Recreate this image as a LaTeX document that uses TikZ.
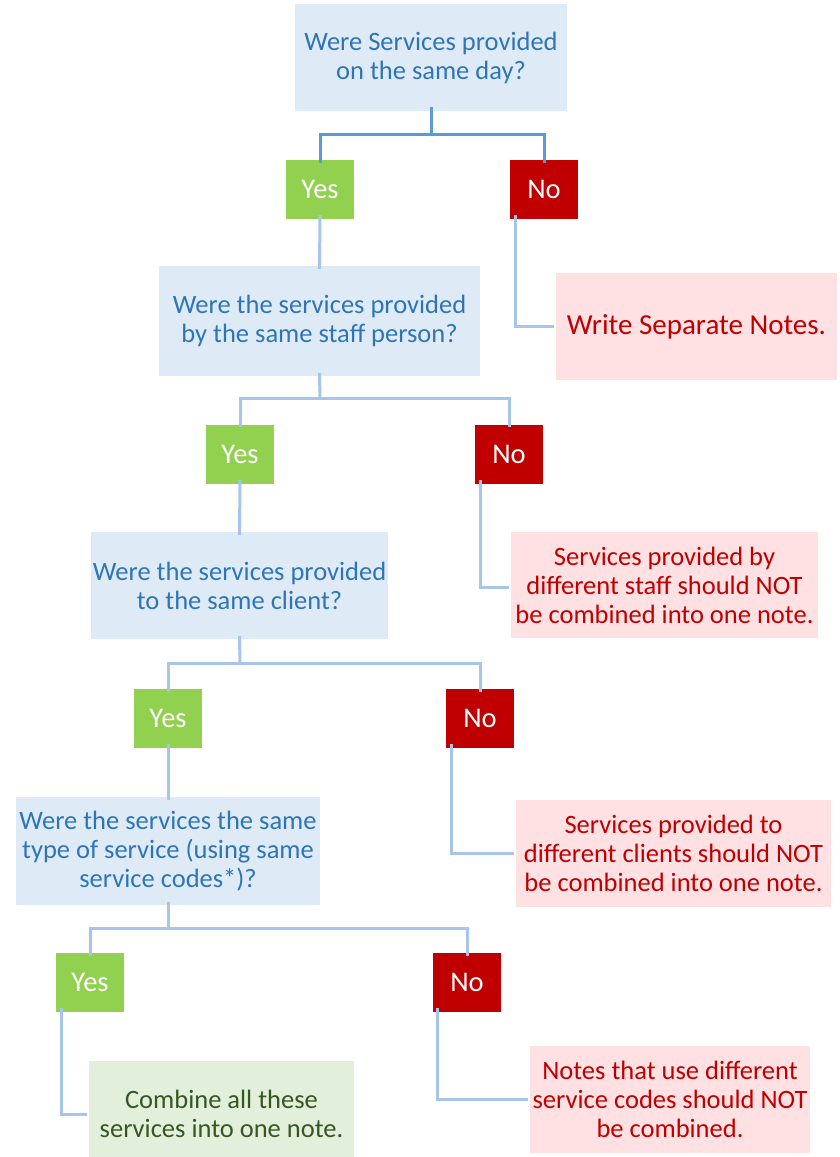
\documentclass[tikz,border=0pt]{standalone}
\usepackage{fontspec}
\setmainfont{Carlito}
\begin{document}
\begin{tikzpicture}[x=1pt,y=-1pt,
  base/.style={draw=none,inner sep=0pt,align=center,font=\fontsize{26.5}{29}\selectfont},
  question/.style={base,fill=qfill,text=qtext},
  yesbox/.style={base,fill=yesgreen,text=white,minimum width=68pt,minimum height=59pt,font=\fontsize{28.5}{30}\selectfont},
  nobox/.style={base,fill=nored,text=white,minimum width=68pt,minimum height=59pt,font=\fontsize{28.5}{30}\selectfont},
  redout/.style={base,fill=rfill,text=nored},
  greenout/.style={base,fill=gfill,text=gtext},
  conn/.style={draw=lineblue,line width=3pt},
  conntop/.style={draw=topblue,line width=3pt}
]
\definecolor{qfill}{HTML}{DEEBF7}
\definecolor{qtext}{HTML}{2E75B6}
\definecolor{yesgreen}{HTML}{92D050}
\definecolor{nored}{HTML}{C00000}
\definecolor{rfill}{HTML}{FFE1E3}
\definecolor{gfill}{HTML}{E2EFDA}
\definecolor{gtext}{HTML}{375623}
\definecolor{lineblue}{HTML}{A7C5EA}
\definecolor{topblue}{HTML}{5B9BD5}

\fill[white] (0,0) rectangle (840,1157);
\useasboundingbox (0,0) rectangle (840,1157);

% level 1
\node[question,minimum width=272pt,minimum height=107pt] (q1) at (431,57.5) {Were Services provided\\on the same day?};
\node[yesbox] (yes1) at (320,189.5) {Yes};
\node[nobox] (no1) at (544,189.5) {No};
\node[redout,minimum width=281pt,minimum height=107pt,font=\fontsize{29}{31}\selectfont] (r1) at (696.5,326.5) {Write Separate Notes.};
\coordinate (b1) at (431,134);

% level 2
\node[question,minimum width=321pt,minimum height=110pt] (q2) at (319.5,321) {Were the services provided\\by the same staff person?};
\node[yesbox] (yes2) at (240,454) {Yes};
\node[nobox] (no2) at (509,454) {No};
\node[redout,minimum width=307pt,minimum height=106pt] (r2) at (664.5,585) {Services provided by\\different staff should NOT\\be combined into one note.};
\coordinate (b2) at (320,398);

% level 3
\node[question,minimum width=297pt,minimum height=107pt] (q3) at (239.5,585.5) {Were the services provided\\to the same client?};
\node[yesbox] (yes3) at (168,718.5) {Yes};
\node[nobox] (no3) at (480,718.5) {No};
\node[redout,minimum width=315pt,minimum height=107pt] (r3) at (673.5,853.5) {Services provided to\\different clients should NOT\\be combined into one note.};
\coordinate (b3) at (240,663);

% level 4
\node[question,minimum width=304pt,minimum height=108pt] (q4) at (168,851) {Were the services the same\\type of service (using same\\service codes*)?};
\node[yesbox] (yes4) at (90,982.5) {Yes};
\node[nobox] (no4) at (467,982.5) {No};
\node[greenout,minimum width=265pt,minimum height=107pt] (g4) at (221.5,1114) {Combine all these\\services into one note.};
\node[redout,minimum width=280pt,minimum height=107pt] (r4) at (670,1099.5) {Notes that use different\\service codes should NOT\\be combined.};
\coordinate (b4) at (168,928);

% connectors
\draw[conntop] ([yshift=4pt]q1.south) -- (b1);
\draw[conntop] ([yshift=-3pt]yes1.north) |- (b1) -| ([yshift=-3pt]no1.north);
\draw[conn] ([yshift=4pt]yes1.south) -- ([yshift=-3pt]q2.north);
\draw[conn] ([xshift=6pt,yshift=4pt]no1.south west) |- ([xshift=-2pt]r1.west);

\draw[conn] ([yshift=3pt]q2.south) -- (b2);
\draw[conn] ([yshift=-3pt]yes2.north) |- (b2) -| ([yshift=-3pt]no2.north);
\draw[conn] ([yshift=4pt]yes2.south) -- ([yshift=-3pt]q3.north);
\draw[conn] ([xshift=6pt,yshift=4pt]no2.south west) |- ([xshift=-2pt,yshift=-2pt]r2.west);

\draw[conn] ([yshift=3pt]q3.south) -- (b3);
\draw[conn] ([yshift=-3pt]yes3.north) |- (b3) -| ([yshift=-3pt]no3.north);
\draw[conn] ([yshift=4pt]yes3.south) -- ([yshift=-3pt]q4.north);
\draw[conn] ([xshift=6pt,yshift=4pt]no3.south west) |- ([xshift=-2pt]r3.west);

\draw[conn] ([yshift=3pt]q4.south) -- (b4);
\draw[conn] ([yshift=-3pt]yes4.north) |- (b4) -| ([yshift=-3pt]no4.north);
\draw[conn] ([xshift=6pt,yshift=4pt]yes4.south west) |- ([xshift=-2pt]g4.west);
\draw[conn] ([xshift=5pt,yshift=4pt]no4.south west) |- ([xshift=-2pt]r4.west);
\end{tikzpicture}
\end{document}
